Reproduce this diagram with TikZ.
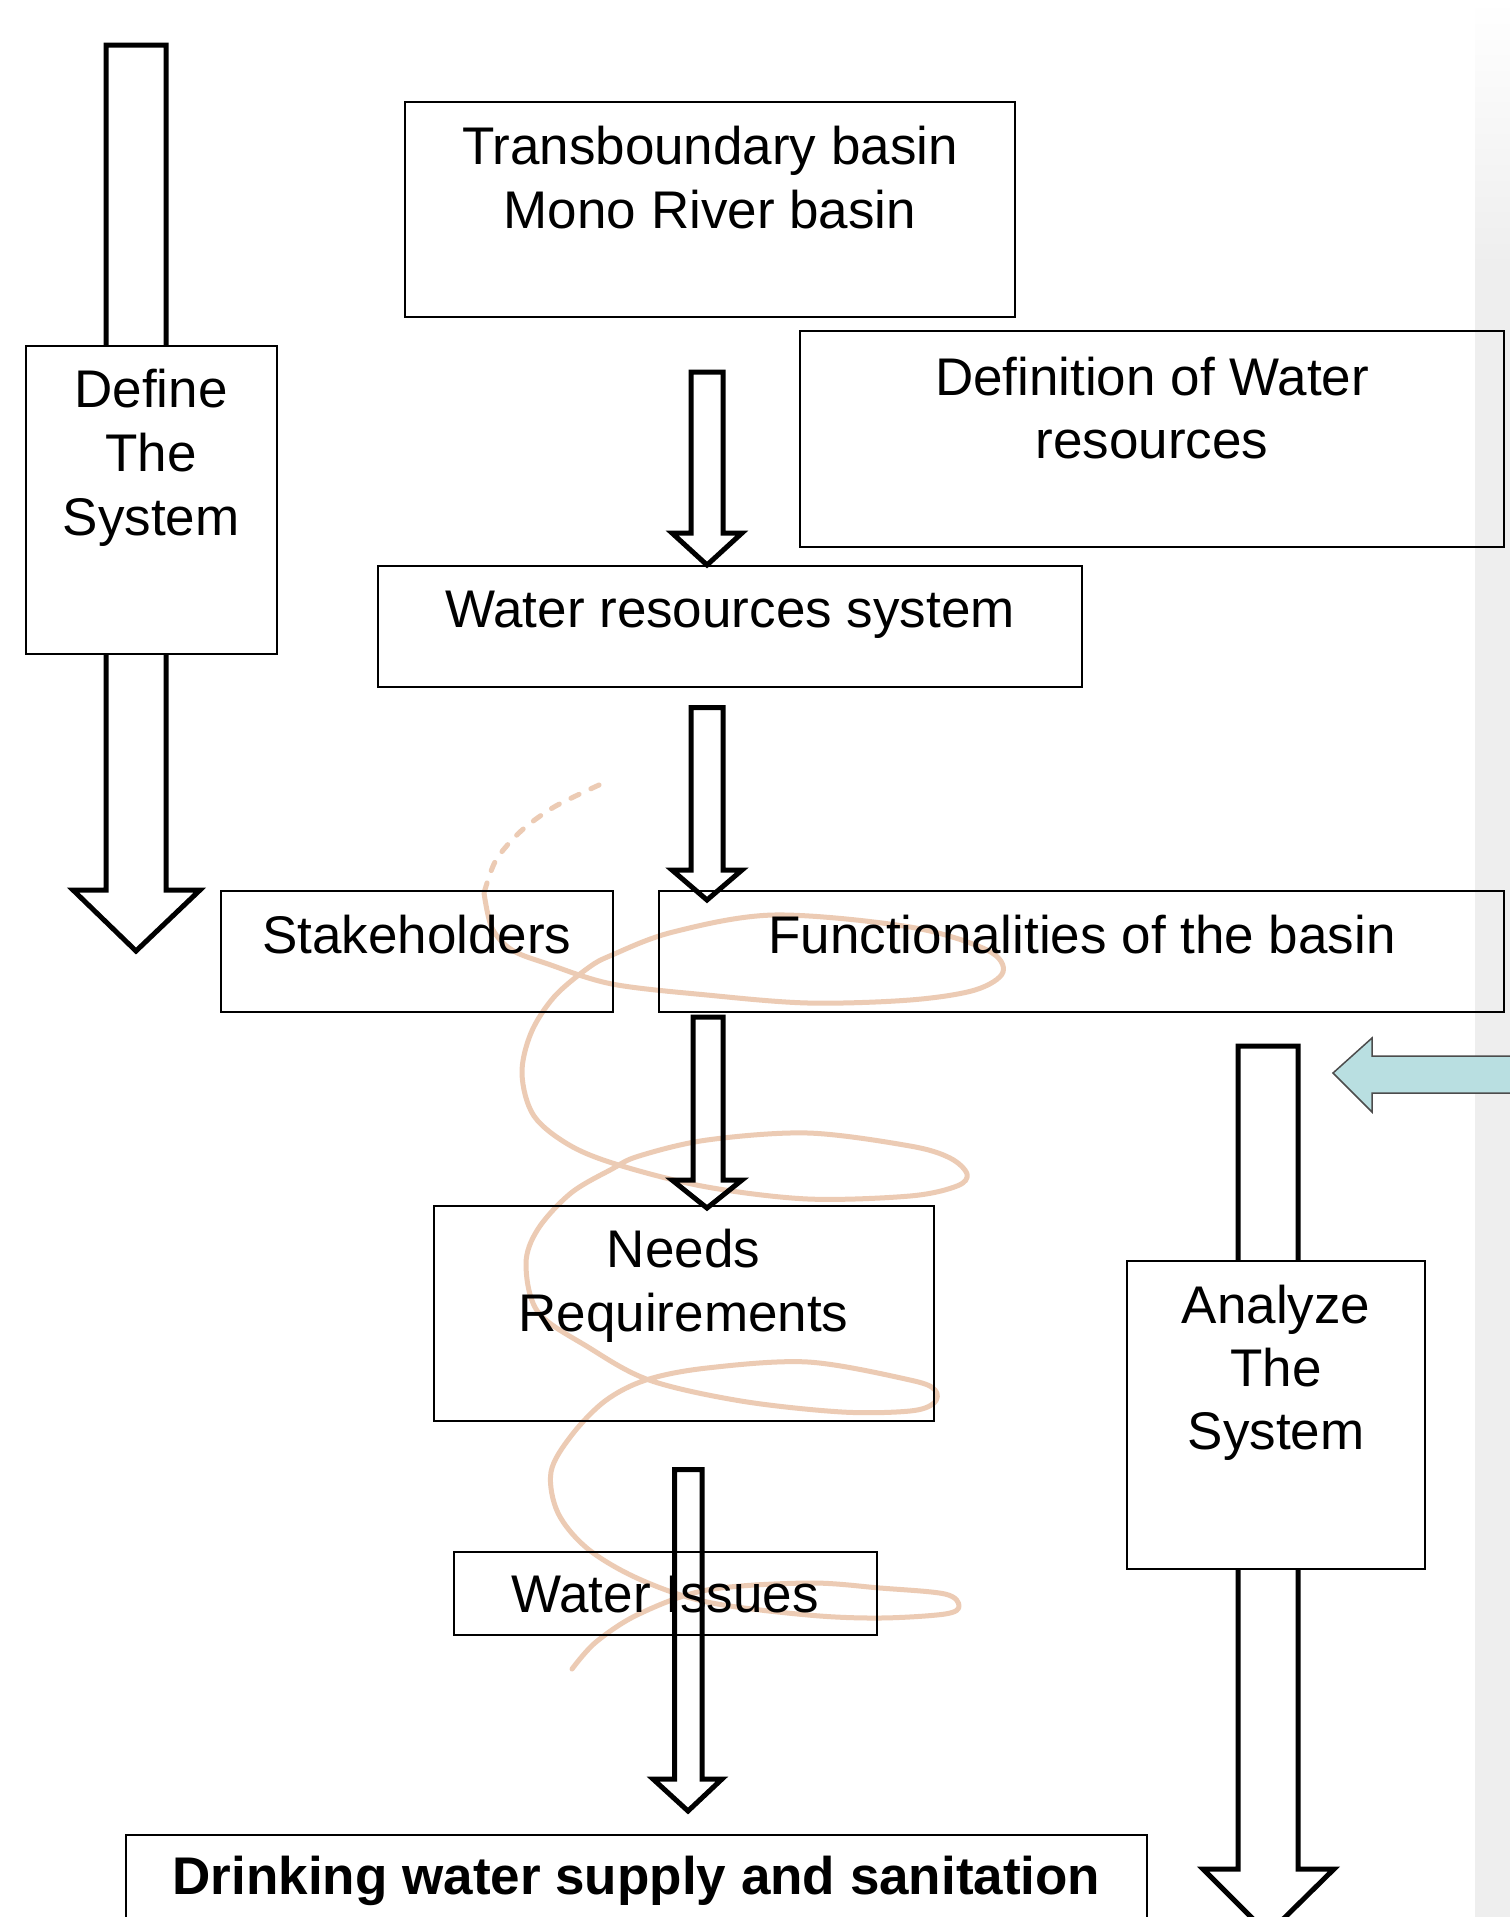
\documentclass[tikz,border=0pt]{standalone}
\usepackage{fontspec}
\setmainfont{Liberation Sans}
\definecolor{peach}{RGB}{236,203,180}
\definecolor{paleteal}{RGB}{185,223,225}
\newcommand{\blockarr}[9]{%
  \draw[#1] (#2,#4) -- (#3,#4) -- (#3,#5) -- (#7,#5) -- (#9,#8) -- (#6,#5) -- (#2,#5) -- cycle;}
\newcommand{\boxnode}[6]{%
  \node[box,#6,inner sep=0pt,minimum width={#4pt-#2pt},minimum height={#5pt-#3pt}] (#1) at ({(#2+#4)/2},{(#3+#5)/2}) {};}
\begin{document}
\begin{tikzpicture}[x=1pt,y=-1pt,
  box/.style={draw=black,line width=2pt},
  barrow/.style={draw=black,line width=5pt,line join=miter,miter limit=10},
  lbl/.style={anchor=base,inner sep=0pt,font=\fontsize{53}{64}\selectfont},
  swirl/.style={draw=peach,line width=5pt,line cap=round,line join=round}]

\useasboundingbox (0,0) rectangle (1510,1917);
\clip (0,0) rectangle (1510,1917);
\fill[white] (0,0) rectangle (1510,1917);

% light grey strip on the right edge
\shade[top color=white,bottom color=gray!13] (1475,0) rectangle (1510,260);
\fill[gray!13] (1475,260) rectangle (1510,1917);

% decorative swirl
\draw[swirl,dash pattern=on 9pt off 13pt] plot[smooth] coordinates {(599,785) (554,807) (521,831) (496,860) (484,893)};
\draw[swirl] plot[smooth,tension=0.55] coordinates {
 (484,893) (492,928) (512,950) (548,964) (612,984) (707,995) (808,1003) (910,1000) (975,990) (1003,972)
 (987,950) (910,927) (774,915) (673,932) (612,955) (588,968) (554,997) (531,1033) (522,1074) (534,1116)
 (571,1146) (622,1166) (707,1187) (808,1199) (910,1196) (957,1186) (967,1174) (950,1158) (910,1146)
 (808,1133) (707,1140) (639,1156) (612,1169) (571,1193) (538,1229) (526,1264) (538,1312) (588,1347)
 (649,1380) (741,1401) (842,1412) (910,1411) (934,1403) (935,1390) (910,1380) (808,1362) (707,1368)
 (646,1380) (605,1401) (571,1436) (551,1472) (558,1513) (588,1549) (639,1579) (707,1602) (808,1615)
 (880,1618) (945,1614) (959,1606) (945,1594) (880,1588) (808,1583) (707,1590) (639,1614) (596,1642) (572,1669)};

% big side arrows
\blockarr{barrow}{106}{166}{45}{890}{73}{200}{951}{136}
\blockarr{barrow}{1238}{1298}{1046}{1869}{1203}{1334}{1934}{1268}

% side boxes (opaque)
\boxnode{define}{25.7}{346}{277}{654}{fill=white}
\boxnode{analyze}{1127}{1261}{1425}{1568.6}{fill=white}

% pale teal arrow
\draw[fill=paleteal,draw=gray!60!black,line width=1.5pt,line join=miter]
  (1333,1073) -- (1372,1038) -- (1372,1056) -- (1515,1056) -- (1515,1093) -- (1372,1093) -- (1372,1112) -- cycle;

% boxes
\boxnode{trans}{405}{101.5}{1015}{317}{}
\boxnode{defwr}{800}{331}{1504}{546.5}{}
\boxnode{wrs}{378}{566}{1082}{687}{}
\boxnode{stake}{221}{891}{612.5}{1012}{}
\boxnode{func}{659}{891}{1504}{1012}{}
\boxnode{needs}{433.5}{1205.5}{934}{1421}{}
\boxnode{issues}{453.6}{1552}{876.5}{1635.4}{}
\boxnode{drink}{126}{1835}{1147}{1960}{}

% flow arrows
\blockarr{barrow}{691}{723}{372}{533}{672}{742}{565}{707}
\blockarr{barrow}{691}{723}{707.5}{870}{672}{742}{900}{707}
\blockarr{barrow}{693}{723}{1017}{1180}{672}{742}{1208}{707}
\blockarr{barrow}{674.5}{702}{1469.5}{1779}{653}{722}{1811}{688}

% texts
\node[lbl] (t1a) at (151,407.6) {Define};
\node[lbl] (t1b) at (151,471.5) {The};
\node[lbl] (t1c) at (151,535) {System};
\node[lbl] (t2a) at (710,164) {Transboundary basin};
\node[lbl] (t2b) at (710,228) {Mono River basin};
\node[lbl] (t3a) at (1152,395.5) {Definition of Water};
\node[lbl] (t3b) at (1152,458) {resources};
\node[lbl] (t4) at (730,627) {Water resources system};
\node[lbl] (t5) at (416.8,953) {Stakeholders};
\node[lbl] (t6) at (1082,953) {Functionalities of the basin};
\node[lbl] (t7a) at (683.5,1267) {Needs};
\node[lbl] (t7b) at (683.5,1331) {Requirements};
\node[lbl] (t8) at (665,1612.7) {Water Issues};
\node[lbl] (t9a) at (1276,1323) {Analyze};
\node[lbl] (t9b) at (1276,1386) {The};
\node[lbl] (t9c) at (1276,1449) {System};
\node[lbl,font=\fontsize{53}{64}\selectfont\bfseries] (t10) at (636.5,1894) {Drinking water supply and sanitation};
\end{tikzpicture}
\end{document}
